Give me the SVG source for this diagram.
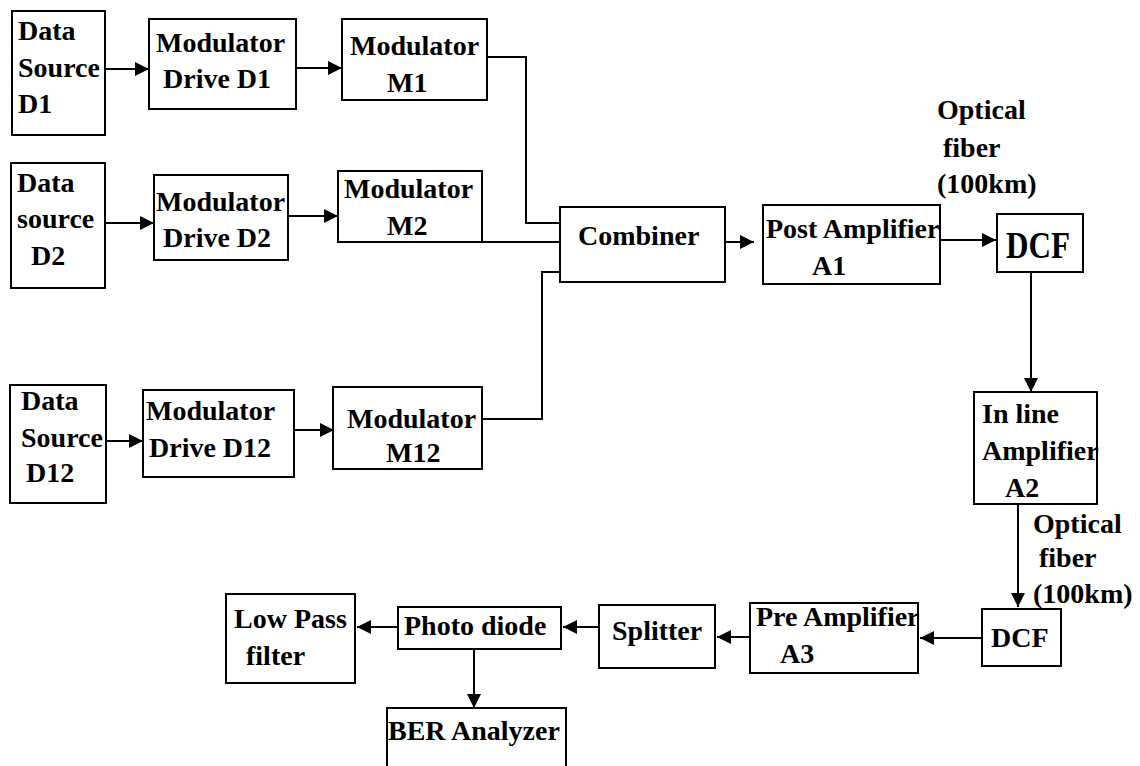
<svg xmlns="http://www.w3.org/2000/svg" width="1140" height="766" viewBox="0 0 1140 766">
<defs>
<style>
.box{fill:#fff;stroke:#000;stroke-width:2}
.t{font-family:"Liberation Serif","Times New Roman",serif;font-weight:bold;font-size:28px;fill:#000}
.c{fill:none;stroke:#000;stroke-width:2}
</style>
<marker id="ah" markerUnits="userSpaceOnUse" markerWidth="14" markerHeight="14" refX="14" refY="7" orient="auto">
<path d="M0,0 L14,7 L0,14 z" fill="#000"/>
</marker>
</defs>
<rect width="1140" height="766" fill="#fff"/>

<g id="connectors">
<line class="c" x1="105" y1="69" x2="149" y2="69" marker-end="url(#ah)"/>
<line class="c" x1="296" y1="68" x2="342" y2="68" marker-end="url(#ah)"/>
<polyline class="c" points="487,57 526,57 526,223 560,223"/>
<line class="c" x1="105" y1="223" x2="154" y2="223" marker-end="url(#ah)"/>
<line class="c" x1="289" y1="216" x2="338" y2="216" marker-end="url(#ah)"/>
<line class="c" x1="482" y1="242" x2="560" y2="242"/>
<line class="c" x1="106" y1="441" x2="143" y2="441" marker-end="url(#ah)"/>
<line class="c" x1="294" y1="430" x2="334" y2="430" marker-end="url(#ah)"/>
<polyline class="c" points="482,419 542,419 542,272 560,272"/>
<line class="c" x1="707" y1="242" x2="754" y2="242" marker-end="url(#ah)"/>
<line class="c" x1="940" y1="240" x2="996" y2="240" marker-end="url(#ah)"/>
<line class="c" x1="1031" y1="272" x2="1031" y2="392" marker-end="url(#ah)"/>
<line class="c" x1="1018" y1="504" x2="1018" y2="607" marker-end="url(#ah)"/>
<line class="c" x1="982" y1="638" x2="920" y2="638" marker-end="url(#ah)"/>
<line class="c" x1="762" y1="637" x2="717" y2="637" marker-end="url(#ah)"/>
<line class="c" x1="608" y1="627" x2="563" y2="627" marker-end="url(#ah)"/>
<line class="c" x1="398" y1="627" x2="357" y2="627" marker-end="url(#ah)"/>
<line class="c" x1="474" y1="649" x2="474" y2="708" marker-end="url(#ah)"/>
</g>

<g id="data-source-d1">
<rect class="box" x="12" y="11" width="93" height="124"/>
<text class="t" x="18" y="40">Data</text>
<text class="t" x="18" y="77">Source</text>
<text class="t" x="18" y="113">D1</text>
</g>
<g id="modulator-drive-d1">
<rect class="box" x="149" y="19" width="147" height="90"/>
<text class="t" x="156" y="52">Modulator</text>
<text class="t" x="163" y="88">Drive D1</text>
</g>
<g id="modulator-m1">
<rect class="box" x="342" y="19" width="145" height="81"/>
<text class="t" x="350" y="55">Modulator</text>
<text class="t" x="387" y="92">M1</text>
</g>

<g id="data-source-d2">
<rect class="box" x="11" y="163" width="94" height="125"/>
<text class="t" x="17" y="192">Data</text>
<text class="t" x="17" y="228">source</text>
<text class="t" x="31" y="265">D2</text>
</g>
<g id="modulator-drive-d2">
<rect class="box" x="154" y="175" width="134" height="85"/>
<text class="t" x="156" y="211">Modulator</text>
<text class="t" x="163" y="247">Drive D2</text>
</g>
<g id="modulator-m2">
<rect class="box" x="338" y="171" width="144" height="71"/>
<text class="t" x="344" y="198">Modulator</text>
<text class="t" x="387" y="235">M2</text>
</g>

<g id="data-source-d12">
<rect class="box" x="10" y="385" width="96" height="118"/>
<text class="t" x="21" y="410">Data</text>
<text class="t" x="21" y="447">Source</text>
<text class="t" x="26" y="482">D12</text>
</g>
<g id="modulator-drive-d12">
<rect class="box" x="143" y="390" width="151" height="87"/>
<text class="t" x="146" y="420">Modulator</text>
<text class="t" x="149" y="457">Drive D12</text>
</g>
<g id="modulator-m12">
<rect class="box" x="333" y="387" width="149" height="82"/>
<text class="t" x="347" y="428">Modulator</text>
<text class="t" x="386" y="462">M12</text>
</g>

<g id="combiner">
<rect class="box" x="560" y="207" width="165" height="75"/>
<text class="t" x="578" y="245">Combiner</text>
</g>
<g id="post-amplifier-a1">
<rect class="box" x="763" y="205" width="177" height="79"/>
<text class="t" x="766" y="238">Post Amplifier</text>
<text class="t" x="812" y="275">A1</text>
</g>
<g id="label-fiber-1">
<text class="t" x="937" y="119">Optical</text>
<text class="t" x="943" y="157">fiber</text>
<text class="t" x="937" y="193">(100km)</text>
</g>
<g id="dcf-1">
<rect class="box" x="997" y="214" width="86" height="58"/>
<text class="t" x="1006" y="258" style="font-size:38px" textLength="64" lengthAdjust="spacingAndGlyphs">DCF</text>
</g>
<g id="inline-amplifier-a2">
<rect class="box" x="974" y="392" width="123" height="112"/>
<text class="t" x="982" y="423">In line</text>
<text class="t" x="982" y="460">Amplifier</text>
<text class="t" x="1005" y="497">A2</text>
</g>
<g id="label-fiber-2">
<text class="t" x="1033" y="533">Optical</text>
<text class="t" x="1039" y="567">fiber</text>
<text class="t" x="1033" y="603">(100km)</text>
</g>
<g id="dcf-2">
<rect class="box" x="982" y="609" width="79" height="57"/>
<text class="t" x="991" y="647">DCF</text>
</g>
<g id="pre-amplifier-a3">
<rect class="box" x="750" y="603" width="168" height="70"/>
<text class="t" x="756" y="626">Pre Amplifier</text>
<text class="t" x="780" y="663">A3</text>
</g>
<g id="splitter">
<rect class="box" x="599" y="605" width="116" height="63"/>
<text class="t" x="612" y="640">Splitter</text>
</g>
<g id="photo-diode">
<rect class="box" x="398" y="607" width="163" height="42"/>
<text class="t" x="404" y="635">Photo diode</text>
</g>
<g id="low-pass-filter">
<rect class="box" x="226" y="594" width="129" height="89"/>
<text class="t" x="234" y="628">Low Pass</text>
<text class="t" x="246" y="665">filter</text>
</g>
<g id="ber-analyzer">
<rect class="box" x="387" y="708" width="179" height="70"/>
<text class="t" x="388" y="740">BER Analyzer</text>
</g>
</svg>
